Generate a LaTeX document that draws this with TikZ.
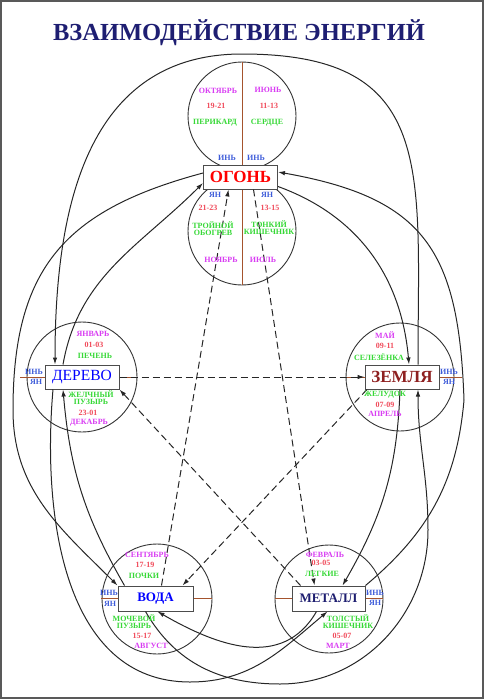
\documentclass[tikz,border=0pt]{standalone}
\usepackage{fontspec}
\setmainfont{Liberation Serif}
\usetikzlibrary{arrows.meta}
\definecolor{monc}{HTML}{D83CF2}
\definecolor{numc}{HTML}{F04A5A}
\definecolor{orgc}{HTML}{36D836}
\definecolor{yinc}{HTML}{3D5BD9}
\definecolor{brownc}{HTML}{A5532D}
\definecolor{titlec}{HTML}{1E1E72}
\definecolor{earthc}{HTML}{8E2020}
\definecolor{metalc}{HTML}{1E1E70}
\newcommand\lblfont{\fontsize{8}{8.5}\selectfont\bfseries}
\begin{document}
\begin{tikzpicture}[x=1pt,y=-1pt,
  elbox/.style={draw=black!70, line width=1pt, fill=white, minimum width=74pt, minimum height=24pt, inner sep=0pt},
  circ/.style={draw=black!80, line width=0.9pt},
  brn/.style={draw=brownc, line width=1pt},
  conn/.style={draw=black!85, line width=1pt, -{Latex[length=7pt,width=4.5pt]}},
  dconn/.style={conn, dash pattern=on 7pt off 4pt},
  lbl/.style={inner sep=0pt, font=\lblfont},
  mon/.style={lbl, text=monc},
  num/.style={lbl, text=numc},
  org/.style={lbl, text=orgc, align=center},
  yin/.style={lbl, text=yinc}]
\useasboundingbox (0,0) rectangle (484,699);
\draw[black!65, line width=1.6pt] (0.8,0.8) rectangle (483.2,698.2);
% title
\node[inner sep=0pt, text=titlec, font=\fontsize{24.5}{27}\selectfont\bfseries] (title) at (239,33) {ВЗАИМОДЕЙСТВИЕ ЭНЕРГИЙ};
% circles
\draw[circ] (242,116) circle[radius=54pt];
\draw[circ] (242,231) circle[radius=54pt];
\draw[circ] (82,377) circle[radius=55pt];
\draw[circ] (400,377) circle[radius=54pt];
\draw[circ] (157,599) circle[radius=55pt];
\draw[circ] (329,599) circle[radius=54pt];
% brown axes
\draw[brn] (242,62) -- (242,285);
\draw[brn] (20,377) -- (137,377);
\draw[brn] (346,377) -- (462,377);
\draw[brn] (101,598.5) -- (212,598.5);
\draw[brn] (275,598.5) -- (383,598.5);
% boxes
\node[elbox] (fire) at (240.5,177) {\fontsize{17}{18}\selectfont\bfseries\color{red}ОГОНЬ};
\node[elbox] (wood) at (82,377) {\fontsize{15.5}{17}\selectfont\color{blue}ДЕРЕВО};
\node[elbox] (earth) at (402,377) {\fontsize{17}{18}\selectfont\bfseries\color{earthc}ЗЕМЛЯ};
\node[elbox, minimum width=75pt, minimum height=25pt] (water) at (155.5,598.5) {\fontsize{13}{14}\selectfont\bfseries\color{blue}ВОДА};
\node[elbox, minimum width=73pt, minimum height=25pt] (metal) at (328.5,598.5) {\fontsize{13}{14}\selectfont\bfseries\color{metalc}МЕТАЛЛ};
% dashed star
\draw[dconn] (wood.east) -- (earth.west);
\draw[dconn] ([xshift=13pt]fire.south) -- ([xshift=-14pt]metal.north);
\draw[dconn] ([xshift=-35pt]earth.south) -- ([xshift=-11pt]water.north east);
\draw[dconn] ([xshift=-28pt]metal.north) -- (wood.south east);
\draw[dconn] ([xshift=6pt]water.north) -- ([xshift=-12pt]fire.south);
% solid curves
\coordinate (topc) at (242,54);
\coordinate (leftc) at (13,410);
\coordinate (rightc) at (464,400);
\coordinate (rightb) at (428,530);
\coordinate (bota) at (190,682);
\coordinate (botb) at (280,684);
\draw[conn] ([xshift=16pt]earth.north) to[out=90,in=0,looseness=1.4] (topc) to[out=180,in=90,looseness=1.1] ([xshift=-27pt]wood.north);
\draw[conn] ([xshift=-19pt]wood.north) to[out=80,in=225] ([yshift=-6pt]fire.west);
\draw[conn] ([yshift=4pt]fire.west) to[out=195,in=90,looseness=1.2] (leftc) to[out=-90,in=135] (water.north west);
\draw[conn] ([yshift=3pt]fire.south east) to[out=-20,in=95] ([xshift=7pt]earth.north);
\draw[conn] (metal.north east) to[out=40,in=-95] (rightc) to[out=92,in=-10,looseness=1.3] ([yshift=5pt]fire.east);
\draw[conn] ([xshift=-2pt]earth.south) to[out=-92,in=60] ([xshift=14pt]metal.north);
\draw[conn] ([xshift=-10pt]water.south) to[out=-60,in=180] (botb) to[out=0,in=-90] (rightb) to[out=90,in=-90] ([xshift=16pt]earth.south);
\draw[conn] ([xshift=-29pt]wood.south) to[out=-95,in=180] (bota) to[out=0,in=-140] ([xshift=-1pt]metal.south);
\draw[conn] ([xshift=-12pt]metal.south) to[out=-120,in=-30,looseness=1.1] ([xshift=2pt]water.south);
\draw[conn] ([xshift=7pt]water.north west) to[out=120,in=-85] ([xshift=-19pt]wood.south);
% fire labels
\node[mon] (f1) at (218,91) {ОКТЯБРЬ};
\node[num] (f2) at (216,106) {19-21};
\node[org] (f3) at (215,123) {ПЕРИКАРД};
\node[yin] (f4) at (227,158) {ИНЬ};
\node[mon] (f5) at (268,90) {ИЮНЬ};
\node[num] (f6) at (269,106) {11-13};
\node[org] (f7) at (267,123) {СЕРДЦЕ};
\node[yin] (f8) at (256,158) {ИНЬ};
\node[yin] (f9) at (215,195) {ЯН};
\node[yin] (f10) at (267,195) {ЯН};
\node[num] (f11) at (208,208) {21-23};
\node[num] (f12) at (270,208) {13-15};
\node[org] (f13) at (213,229) {ТРОЙНОЙ\\[-1.5pt]ОБОГРЕВ};
\node[org] (f14) at (269,228) {ТОНКИЙ\\[-1.5pt]КИШЕЧНИК};
\node[mon] (f15) at (221,260) {НОЯБРЬ};
\node[mon] (f16) at (263,260) {ИЮЛЬ};
% wood labels
\node[mon] (w1) at (93,334) {ЯНВАРЬ};
\node[num] (w2) at (94,345) {01-03};
\node[org] (w3) at (95,356) {ПЕЧЕНЬ};
\node[yin] (w4) at (34,372) {ИНЬ};
\node[yin] (w5) at (36,382) {ЯН};
\node[org] (w6) at (91,398) {ЖЕЛЧНЫЙ\\[-1.5pt]ПУЗЫРЬ};
\node[num] (w7) at (88,413) {23-01};
\node[mon] (w8) at (89,423) {ДЕКАБРЬ};
% earth labels
\node[mon] (e1) at (385,335) {МАЙ};
\node[num] (e2) at (385,346) {09-11};
\node[org] (e3) at (379,357) {СЕЛЕЗЁНКА};
\node[yin] (e4) at (449,372) {ИНЬ};
\node[yin] (e5) at (449,382) {ЯН};
\node[org] (e6) at (385,395) {ЖЕЛУДОК};
\node[num] (e7) at (385,405) {07-09};
\node[mon] (e8) at (385,414) {АПРЕЛЬ};
% water labels
\node[mon] (v1) at (147,555) {СЕНТЯБРЬ};
\node[num] (v2) at (145,565) {17-19};
\node[org] (v3) at (144,576) {ПОЧКИ};
\node[yin] (v4) at (109,593) {ИНЬ};
\node[yin] (v5) at (110,604) {ЯН};
\node[org] (v6) at (134,622) {МОЧЕВОЙ\\[-1.5pt]ПУЗЫРЬ};
\node[num] (v7) at (142,636) {15-17};
\node[mon] (v8) at (151,646) {АВГУСТ};
% metal labels
\node[mon] (m1) at (325,555) {ФЕВРАЛЬ};
\node[num] (m2) at (321,563) {03-05};
\node[org] (m3) at (322,574) {ЛЕГКИЕ};
\node[yin] (m4) at (375,593) {ИНЬ};
\node[yin] (m5) at (375,603) {ЯН};
\node[org] (m6) at (348,622) {ТОЛСТЫЙ\\[-1.5pt]КИШЕЧНИК};
\node[num] (m7) at (342,636) {05-07};
\node[mon] (m8) at (338,646) {МАРТ};
\end{tikzpicture}
\end{document}
